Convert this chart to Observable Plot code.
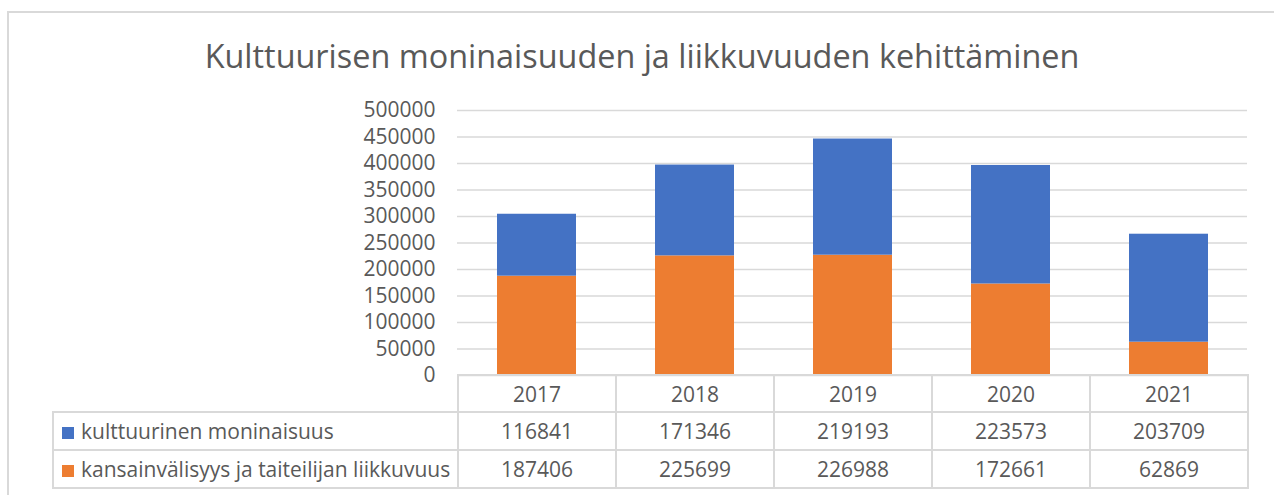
<!DOCTYPE html>
<html><head><meta charset="utf-8">
<script src="https://cdn.jsdelivr.net/npm/d3@7"></script>
<script src="https://cdn.jsdelivr.net/npm/@observablehq/plot@0.6"></script>
<style>
body{margin:0;background:#fff;font-family:"Open Sans",sans-serif;color:#595959}
#wrap{position:relative;width:1274px;height:495px;overflow:hidden;background:#fff}
#frame{position:absolute;left:7px;top:11px;width:1300px;height:600px;border:2px solid #d9d9d9;box-sizing:border-box}
#title{position:absolute;left:0;top:33px;width:1284px;text-align:center;font-size:32.4px;line-height:normal;color:#595959;white-space:nowrap}
#chart{position:absolute;left:0;top:0}
#tbl{position:absolute;left:52px;top:374px;border-collapse:collapse;table-layout:fixed;font-size:21px;color:#595959}
#tbl td{padding:0;border:2px solid #d9d9d9;text-align:center;white-space:nowrap;overflow:visible}
#tbl tr.head td{height:35px}
#tbl tr.head td.blank{border:none}
#tbl tr.data td{height:36px}
#tbl td.lab{text-align:left;padding-left:8px;font-size:21px}
.key{display:inline-block;width:12px;height:12px;margin-right:7px;vertical-align:0px}
</style></head>
<body>
<div id="wrap">
  <div id="frame"></div>
  <div id="title"></div>
  <div id="chart"></div>
  <table id="tbl"></table>
</div>
<script>
const title = "Kulttuurisen moninaisuuden ja liikkuvuuden kehittäminen";
const years = ["2017", "2018", "2019", "2020", "2021"];
const seriesNames = ["kansainvälisyys ja taiteilijan liikkuvuus", "kulttuurinen moninaisuus"];
const kansainvalisyys = [187406, 225699, 226988, 172661, 62869];
const kulttuurinen = [116841, 171346, 219193, 223573, 203709];
const colors = ["#ED7D31", "#4472C4"];
const yTicks = [0, 50000, 100000, 150000, 200000, 250000, 300000, 350000, 400000, 450000, 500000];

document.getElementById("title").textContent = title;

const rows = [];
years.forEach((y, i) => {
  rows.push({year: y, series: seriesNames[0], value: kansainvalisyys[i]});
  rows.push({year: y, series: seriesNames[1], value: kulttuurinen[i]});
});

const chart = Plot.plot({
  width: 1274, height: 495,
  marginLeft: 457, marginRight: 27, marginTop: 110, marginBottom: 120,
  style: {fontFamily: "Open Sans", fontSize: "21px", color: "#595959", background: "transparent", overflow: "visible"},
  x: {domain: years, paddingInner: 0.5, paddingOuter: 0.25, label: null},
  y: {domain: [0, 500000], label: null},
  color: {domain: seriesNames, range: colors},
  marks: [
    Plot.gridY(yTicks, {stroke: "#d9d9d9", strokeOpacity: 1, strokeWidth: 1.5}),
    Plot.barY(rows, {x: "year", y: "value", fill: "series"}),
    Plot.axisY(yTicks, {tickSize: 0, tickPadding: 22, fill: "#595959", label: null, tickFormat: d => String(d)}),
    Plot.axisX({tickSize: 0, tickPadding: 12, fill: "#595959", label: null})
  ]
});
document.getElementById("chart").appendChild(chart);

// data table under the chart
const tbl = document.getElementById("tbl");
const colgroup = document.createElement("colgroup");
[405, 158, 158, 158, 158, 158].forEach(w => {
  const c = document.createElement("col"); c.style.width = w + "px"; colgroup.appendChild(c);
});
tbl.appendChild(colgroup);
const head = document.createElement("tr"); head.className = "head";
const blank = document.createElement("td"); blank.className = "blank"; head.appendChild(blank);
years.forEach(() => head.appendChild(document.createElement("td")));
tbl.appendChild(head);
[[seriesNames[1], kulttuurinen, colors[1]], [seriesNames[0], kansainvalisyys, colors[0]]].forEach(([name, vals, col]) => {
  const tr = document.createElement("tr"); tr.className = "data";
  const lab = document.createElement("td"); lab.className = "lab";
  const key = document.createElement("span"); key.className = "key"; key.style.background = col;
  lab.appendChild(key); lab.appendChild(document.createTextNode(name));
  tr.appendChild(lab);
  vals.forEach(v => { const td = document.createElement("td"); td.textContent = v; tr.appendChild(td); });
  tbl.appendChild(tr);
});
</script>
</body></html>
